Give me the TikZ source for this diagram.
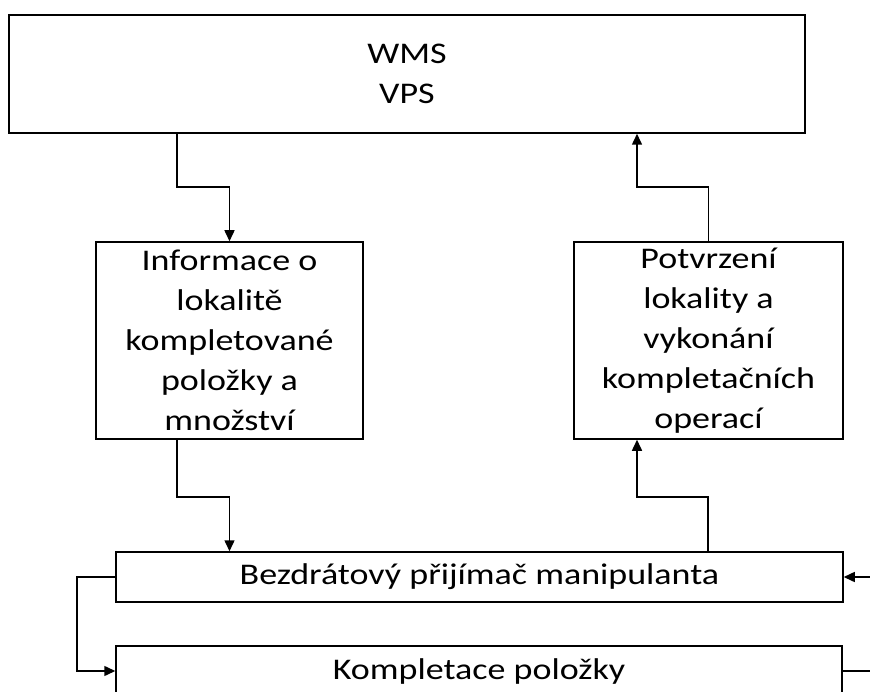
\documentclass[tikz,border=0pt]{standalone}
\usepackage{fontspec}
\setmainfont{Carlito}[FakeStretch=1.2]
\usetikzlibrary{arrows.meta}

\tikzset{box/.style={draw, line width=1.5pt, align=center, inner sep=0pt,
    font=\fontsize{30}{40}\selectfont},
  conn/.style={line width=1.5pt, -{Triangle[length=11pt,width=10pt]}}}

\begin{document}
\begin{tikzpicture}[x=1pt,y=-1pt]
  \useasboundingbox (0,0) rectangle (870,692); \clip (0,0) rectangle (870,692);
  \node[box, minimum width=796pt, minimum height=118pt] (wms) at (407,74) {WMS\\VPS};
  \node[box, minimum width=267pt, minimum height=197pt] (info) at (229.5,340.5)
    {Informace o\\lokalitě\\kompletované\\položky a\\množství};
  \node[box, minimum width=269pt, minimum height=197pt] (potv) at (708.5,340.5)
    {Potvrzení\\lokality a\\vykonání\\kompletačních\\operací};
  \node[box, minimum width=727pt, minimum height=50pt] (prij) at (479.5,577)
    {Bezdrátový přijímač manipulanta};
  \node[box, minimum width=726pt, minimum height=50pt] (kompl) at (479,671)
    {Kompletace položky};
  \coordinate (inR) at (872,577); \coordinate (outR) at (872,671);
  % spojnice
  \draw[conn] (177,0 |- wms.south) |- (229.5,187) -- (info.north);
  \draw[conn] (177,0 |- info.south) |- (229.5,497) -- (229.5,0 |- prij.north);
  \draw[conn] (708,0 |- prij.north) |- (637,497) -- (637,0 |- potv.south);
  \draw[conn] (potv.north) |- (637,187) -- (637,0 |- wms.south);
  \draw[conn] (inR) -- (prij.east);
  \draw[conn] (prij.west) -| (77,671) -- (kompl.west);
  \draw[line width=1.5pt] (kompl.east) -- (outR);
\end{tikzpicture}
\end{document}
